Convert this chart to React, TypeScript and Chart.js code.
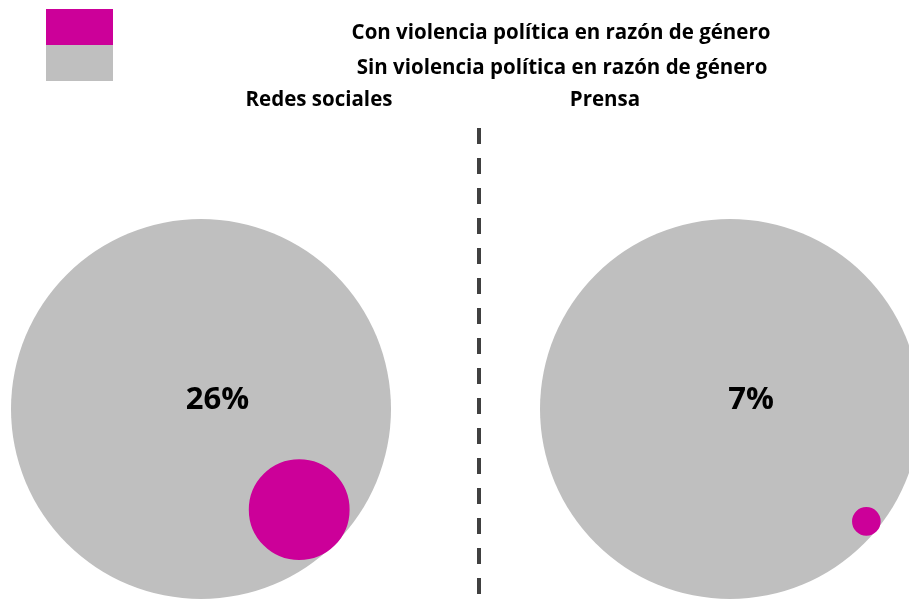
import React, { useEffect, useRef } from 'react';
import { Chart, registerables } from 'chart.js';

Chart.register(...registerables);

// ---- data ----
const categories = ['Redes sociales', 'Prensa'];
const conViolenciaPct = [26, 7];
const seriesLabels = [
  'Con violencia política en razón de género',
  'Sin violencia política en razón de género',
];

// ---- style / layout ----
const COLORS = ['#CC0099', '#BFBFBF'];
const W = 909;
const H = 603;
const R = 190; // radius of the whole (100%) circle, px
const CENTER_X = [201, 730];
const CENTER_Y = 409;
const INNER_ANGLE_DEG = [45.7, 39.5]; // where the inner bubble touches the outer one
const LABEL_DX = [16.5, 21];
const LABEL_DY = -9;
const TEXT_FONT = '"Open Sans", Lato, sans-serif';
const LEGEND_TEXT_WIDTH = 418;

const overlayPlugin = {
  id: 'overlay',
  afterDraw(chart: any) {
    const ctx = chart.ctx as CanvasRenderingContext2D;
    ctx.save();
    // legend boxes
    ctx.fillStyle = COLORS[0];
    ctx.fillRect(46, 9, 67, 36);
    ctx.fillStyle = COLORS[1];
    ctx.fillRect(46, 45, 67, 36);
    // pick a text size matching the original text width
    ctx.font = `bold 20px ${TEXT_FONT}`;
    const w20 = ctx.measureText(seriesLabels[0]).width;
    const size = Math.round((20 * LEGEND_TEXT_WIDTH / w20) * 10) / 10;
    // legend texts
    ctx.fillStyle = '#000';
    ctx.textAlign = 'center';
    ctx.textBaseline = 'alphabetic';
    ctx.font = `bold ${size}px ${TEXT_FONT}`;
    ctx.fillText(seriesLabels[0], 561, 39);
    ctx.fillText(seriesLabels[1], 562, 74);
    // panel titles
    ctx.fillText(categories[0], 319, 106);
    ctx.fillText(categories[1], 605, 106);
    // dashed separator
    ctx.strokeStyle = '#404040';
    ctx.lineWidth = 4;
    ctx.setLineDash([16, 14]);
    ctx.beginPath();
    ctx.moveTo(479, 128);
    ctx.lineTo(479, H);
    ctx.stroke();
    ctx.setLineDash([]);
    // percentage labels
    ctx.font = `bold 31px ${TEXT_FONT}`;
    ctx.textBaseline = 'middle';
    categories.forEach((_, i) => {
      const xs = chart.scales['x' + i];
      const ys = chart.scales['y' + i];
      const px = xs.getPixelForValue(0) + LABEL_DX[i];
      const py = ys.getPixelForValue(0) + LABEL_DY;
      ctx.fillText(`${conViolenciaPct[i]}%`, px, py);
    });
    ctx.restore();
  },
};

export default function App() {
  const ref = useRef<HTMLCanvasElement | null>(null);

  useEffect(() => {
    if (!ref.current) return;
    const scales: any = {};
    const inner: any[] = [];
    const outer: any[] = [];
    categories.forEach((cat, i) => {
      const cx = CENTER_X[i];
      scales['x' + i] = {
        type: 'linear',
        display: false,
        bounds: 'data',
        min: -cx / R,
        max: (W - cx) / R,
      };
      scales['y' + i] = {
        type: 'linear',
        display: false,
        bounds: 'data',
        min: -(H - CENTER_Y) / R,
        max: CENTER_Y / R,
      };
      const frac = conViolenciaPct[i] / 100;
      const a = (INNER_ANGLE_DEG[i] * Math.PI) / 180;
      const d = 1 - frac;
      inner.push({
        label: `${seriesLabels[0]} - ${cat}`,
        data: [{ x: d * Math.cos(a), y: -d * Math.sin(a), r: R * frac }],
        backgroundColor: COLORS[0],
        borderColor: COLORS[0],
        borderWidth: 2,
        xAxisID: 'x' + i,
        yAxisID: 'y' + i,
        clip: false,
      });
      outer.push({
        label: `${seriesLabels[1]} - ${cat}`,
        data: [{ x: 0, y: 0, r: R }],
        backgroundColor: COLORS[1],
        borderWidth: 0,
        xAxisID: 'x' + i,
        yAxisID: 'y' + i,
        clip: false,
      });
    });

    const chart = new Chart(ref.current, {
      type: 'bubble',
      data: { datasets: [...inner, ...outer] },
      options: {
        responsive: false,
        animation: false,
        layout: { padding: 0, autoPadding: false },
        scales,
        plugins: {
          legend: { display: false },
          tooltip: { enabled: false },
          title: { display: false },
        },
        elements: { point: { hoverRadius: 0 } },
      },
      plugins: [overlayPlugin],
    });
    return () => chart.destroy();
  }, []);

  return (
    <div style={{ position: 'absolute', left: 0, top: 0, width: W, height: H, overflow: 'hidden', background: '#fff' }}>
      <canvas ref={ref} width={W} height={H} style={{ display: 'block', width: W, height: H }} />
    </div>
  );
}
